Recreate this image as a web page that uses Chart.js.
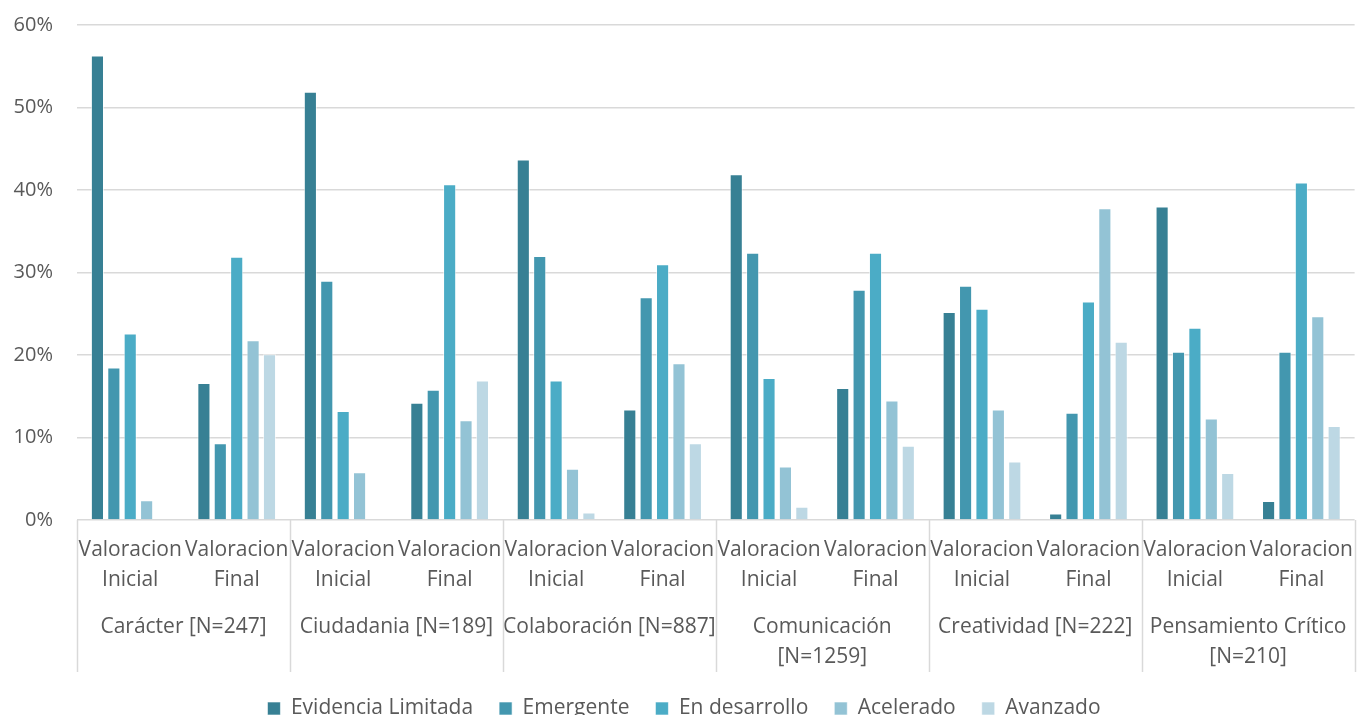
<!DOCTYPE html>
<html>
<head>
<meta charset="utf-8">
<script src="https://cdn.jsdelivr.net/npm/chart.js@4.4.0/dist/chart.umd.min.js"></script>
<style>
    html, body { margin: 0; padding: 0; overflow: hidden; background: #fff; }
    #wrap { width: 1368px; height: 740px; }
</style>
</head>
<body>
<div id="wrap"><canvas id="chart"></canvas></div>
<script>
// Grupos (competencias) y valoraciones
const grupos = [
    'Carácter [N=247]',
    'Ciudadania [N=189]',
    'Colaboración [N=887]',
    ['Comunicación', '[N=1259]'],
    'Creatividad [N=222]',
    ['Pensamiento Crítico', '[N=210]']
];
const valoraciones = [['Valoracion', 'Inicial'], ['Valoracion', 'Final']];

// Porcentajes por nivel (12 categorías: Inicial/Final de cada grupo)
const evidenciaLimitada = [56.3, 16.6, 51.9, 14.2, 43.7, 13.4, 41.9, 16.0, 25.2, 0.8, 38.0, 2.3];
const emergente         = [18.5, 9.3, 29.0, 15.8, 32.0, 27.0, 32.4, 27.9, 28.4, 13.0, 20.4, 20.4];
const enDesarrollo      = [22.6, 31.9, 13.2, 40.7, 16.9, 31.0, 17.2, 32.4, 25.6, 26.5, 23.3, 40.9];
const acelerado         = [2.4, 21.8, 5.8, 12.1, 6.2, 19.0, 6.5, 14.5, 13.4, 37.8, 12.3, 24.7];
const avanzado          = [0, 20.1, 0, 16.9, 0.9, 9.3, 1.6, 9.0, 7.1, 21.6, 5.7, 11.4];

// Ticks del eje y
const yTicks = [0, 10, 20, 30, 40, 50, 60];

const textColor = '#595959';
const gridColor = '#D9D9D9';

// Etiquetas de categoría: Inicial/Final repetido por grupo
const labels = [];
grupos.forEach(() => valoraciones.forEach(v => labels.push(v)));

function serie(label, data, color) {
    return {
        label: label,
        data: data,
        backgroundColor: color,
        borderColor: 'rgba(255, 255, 255, 0.6)',
        borderWidth: 1,
        categoryPercentage: 0.77,
        barPercentage: 0.8
    };
}

// Líneas separadoras de grupos bajo el eje x
const separadores = {
    id: 'separadores',
    afterDraw(chart) {
        const x2 = chart.scales.x2;
        const ctx = chart.ctx;
        const paso = (x2.right - x2.left) / grupos.length;
        ctx.save();
        ctx.strokeStyle = gridColor;
        ctx.lineWidth = 1.5;
        for (let i = 0; i <= grupos.length; i++) {
            const px = Math.round(x2.left + paso * i) + 0.5;
            ctx.beginPath();
            ctx.moveTo(px, chart.chartArea.bottom);
            ctx.lineTo(px, x2.bottom);
            ctx.stroke();
        }
        ctx.restore();
    }
};

const font = { family: '"Open Sans", sans-serif', size: 21, lineHeight: 1.43 };

new Chart(document.getElementById('chart'), {
    type: 'bar',
    data: {
        labels: labels,
        datasets: [
            serie('Evidencia Limitada', evidenciaLimitada, '#378094'),
            serie('Emergente', emergente, '#4397AF'),
            serie('En desarrollo', enDesarrollo, '#4BACC6'),
            serie('Acelerado', acelerado, '#93C3D5'),
            serie('Avanzado', avanzado, '#BDD8E4')
        ]
    },
    options: {
        responsive: true,
        maintainAspectRatio: false,
        animation: false,
        layout: { padding: { top: 25, left: 0, right: 0, bottom: 11 } },
        scales: {
            x: {
                afterFit: s => { s.height = 75; },
                grid: { display: false, drawTicks: false },
                border: { display: false },
                ticks: {
                    color: textColor,
                    font: font,
                    padding: 15,
                    maxRotation: 0,
                    autoSkip: false
                }
            },
            x2: {
                type: 'category',
                position: 'bottom',
                labels: grupos,
                offset: true,
                afterFit: s => { s.height = 77; },
                grid: { display: false, drawTicks: false },
                border: { display: false },
                ticks: {
                    color: textColor,
                    font: font,
                    padding: 17,
                    maxRotation: 0,
                    autoSkip: false
                }
            },
            y: {
                min: yTicks[0],
                max: yTicks[yTicks.length - 1],
                afterFit: s => {
                    s.width = 77;
                    s.paddingTop = 0;
                    s.paddingBottom = 0;
                },
                afterBuildTicks: s => { s.ticks = yTicks.map(v => ({ value: v })); },
                grid: { color: gridColor, lineWidth: 1.5, drawTicks: false },
                border: { display: false },
                ticks: {
                    color: textColor,
                    font: { family: '"Open Sans", sans-serif', size: 20 },
                    padding: 24,
                    callback: v => v + '%'
                }
            }
        },
        plugins: {
            legend: {
                position: 'bottom',
                labels: {
                    color: textColor,
                    font: { family: '"Open Sans", sans-serif', size: 21 },
                    boxWidth: 13,
                    boxHeight: 13,
                    padding: 26
                }
            },
            tooltip: { enabled: false }
        }
    },
    plugins: [separadores]
});
</script>
</body>
</html>
